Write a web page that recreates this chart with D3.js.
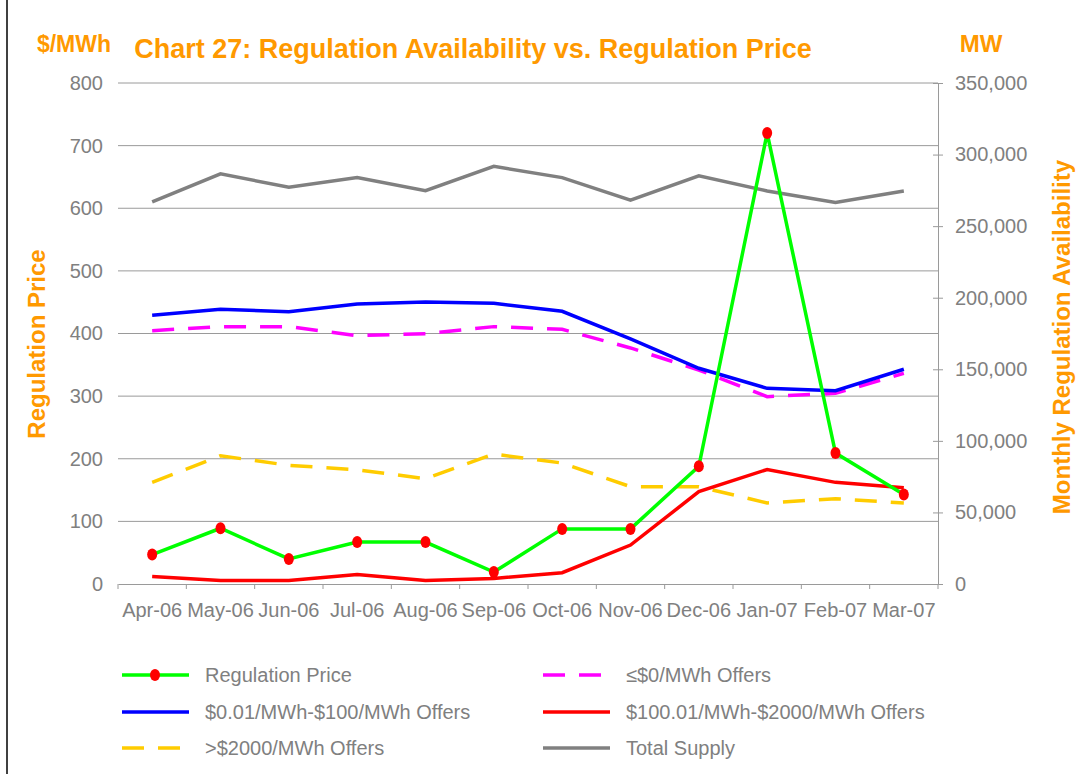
<!DOCTYPE html>
<html>
<head>
<meta charset="utf-8">
<script src="https://cdn.jsdelivr.net/npm/d3@7"></script>
<style>
  body { margin: 0; background: #fff; }
  svg { display: block; font-family: "Liberation Sans", Arial, sans-serif; }
</style>
</head>
<body>
<div id="chart"></div>
<script>
const months = ["Apr-06", "May-06", "Jun-06", "Jul-06", "Aug-06", "Sep-06",
                "Oct-06", "Nov-06", "Dec-06", "Jan-07", "Feb-07", "Mar-07"];

// $/MWh (left axis)
const regPrice = [47, 89, 40, 67, 67, 19, 88, 88, 188, 720, 209, 143];

// MW (right axis)
const offersLe0 = [177000, 179800, 179800, 173500, 174900, 179800, 177900, 164900, 149500, 130900, 133200, 147200];
const offers001to100 = [187700, 191900, 190200, 195600, 197000, 196100, 190500, 171200, 150700, 136700, 135000, 150000];
const offers100to2000 = [5300, 2500, 2500, 6700, 2500, 3900, 7900, 27200, 64500, 80000, 71000, 67300];
const offersGt2000 = [71000, 89600, 82900, 79800, 73600, 90800, 84500, 68000, 68000, 56600, 59600, 56600];
const totalSupply = [266900, 286500, 277200, 283900, 274800, 291800, 283900, 268100, 285100, 274600, 266500, 274600];

const leftTicks = [0, 100, 200, 300, 400, 500, 600, 700, 800];
const rightTicks = [0, 50000, 100000, 150000, 200000, 250000, 300000, 350000];

const width = 1082, height = 774;
const margin = { top: 83, right: 144, bottom: 190, left: 118 };
const plotBottom = height - margin.bottom; // 584
const plotRight = width - margin.right;    // 938

const orange = "#FF9900";
const grey = "#808080";

const svg = d3.select("#chart").append("svg")
  .attr("width", width)
  .attr("height", height);

// frame edge on the left
svg.append("line")
  .attr("x1", 7).attr("x2", 7).attr("y1", 0).attr("y2", height)
  .attr("stroke", "#000").attr("stroke-width", 1.5);

const x = d3.scaleBand()
  .domain(months)
  .range([margin.left, plotRight])
  .padding(0);

const yL = d3.scaleLinear().domain([0, 800]).range([plotBottom, margin.top]);
const yR = d3.scaleLinear().domain([0, 350000]).range([plotBottom, margin.top]);

const cx = d => x(d) + x.bandwidth() / 2;

// gridlines
svg.append("g")
  .selectAll("line")
  .data(leftTicks.slice(1))
  .enter().append("line")
  .attr("x1", margin.left)
  .attr("x2", plotRight)
  .attr("y1", d => yL(d))
  .attr("y2", d => yL(d))
  .attr("stroke", "#9a9a9a")
  .attr("stroke-width", 1);

// left axis (labels only)
const leftAxis = svg.append("g")
  .attr("transform", `translate(${margin.left},0)`)
  .call(d3.axisLeft(yL).tickValues(leftTicks).tickSize(0).tickPadding(15));
leftAxis.select(".domain").remove();
leftAxis.selectAll("text")
  .attr("fill", grey)
  .style("font-size", "20px");

// bottom axis
const bottomAxis = svg.append("g")
  .attr("transform", `translate(0,${plotBottom})`)
  .call(d3.axisBottom(x).tickSize(0).tickPadding(19));
bottomAxis.select(".domain").attr("stroke", "#9a9a9a");
bottomAxis.selectAll("text")
  .attr("fill", grey)
  .style("font-size", "20px");
svg.append("g")
  .selectAll("line")
  .data(months.concat(["end"]))
  .enter().append("line")
  .attr("x1", (d, i) => margin.left + i * x.bandwidth())
  .attr("x2", (d, i) => margin.left + i * x.bandwidth())
  .attr("y1", plotBottom)
  .attr("y2", plotBottom + 5)
  .attr("stroke", "#9a9a9a");

// right axis
const rightAxis = svg.append("g")
  .attr("transform", `translate(${plotRight},0)`)
  .call(d3.axisRight(yR).tickValues(rightTicks).tickSize(5).tickPadding(12)
    .tickFormat(d3.format(",")));
rightAxis.select(".domain").attr("stroke", "#9a9a9a");
rightAxis.selectAll(".tick line")
  .attr("x1", -5)
  .attr("stroke", "#9a9a9a");
rightAxis.selectAll("text")
  .attr("fill", grey)
  .style("font-size", "20px");

// series
const lineR = d3.line().x((d, i) => cx(months[i])).y(d => yR(d));
const lineL = d3.line().x((d, i) => cx(months[i])).y(d => yL(d));

const series = [
  { name: "Total Supply", data: totalSupply, color: "#808080", dash: null },
  { name: ">$2000/MWh Offers", data: offersGt2000, color: "#FFCC00", dash: "22,14" },
  { name: "≤$0/MWh Offers", data: offersLe0, color: "#FF00FF", dash: "22,14" },
  { name: "$0.01/MWh-$100/MWh Offers", data: offers001to100, color: "#0000FF", dash: null },
  { name: "$100.01/MWh-$2000/MWh Offers", data: offers100to2000, color: "#FF0000", dash: null }
];

series.forEach(s => {
  svg.append("path")
    .datum(s.data)
    .attr("fill", "none")
    .attr("stroke", s.color)
    .attr("stroke-width", 3.5)
    .attr("stroke-dasharray", s.dash)
    .attr("d", lineR);
});

svg.append("path")
  .datum(regPrice)
  .attr("fill", "none")
  .attr("stroke", "#00FF00")
  .attr("stroke-width", 3.5)
  .attr("d", lineL);

svg.append("g")
  .selectAll("ellipse")
  .data(regPrice)
  .enter().append("ellipse")
  .attr("cx", (d, i) => cx(months[i]))
  .attr("cy", d => yL(d))
  .attr("rx", 5)
  .attr("ry", 6)
  .attr("fill", "#FF0000");

// titles
svg.append("text")
  .attr("x", 473).attr("y", 58)
  .attr("text-anchor", "middle")
  .attr("fill", orange)
  .style("font-size", "27px")
  .style("font-weight", "bold")
  .text("Chart 27: Regulation Availability vs. Regulation Price");

svg.append("text")
  .attr("x", 74).attr("y", 52)
  .attr("text-anchor", "middle")
  .attr("fill", orange)
  .style("font-size", "23px")
  .style("font-weight", "bold")
  .text("$/MWh");

svg.append("text")
  .attr("x", 981).attr("y", 52)
  .attr("text-anchor", "middle")
  .attr("fill", orange)
  .style("font-size", "24px")
  .style("font-weight", "bold")
  .text("MW");

svg.append("text")
  .attr("transform", "translate(45,344) rotate(-90)")
  .attr("text-anchor", "middle")
  .attr("fill", orange)
  .style("font-size", "24px")
  .style("font-weight", "bold")
  .text("Regulation Price");

svg.append("text")
  .attr("transform", "translate(1070,337) rotate(-90)")
  .attr("text-anchor", "middle")
  .attr("fill", orange)
  .style("font-size", "24px")
  .style("font-weight", "bold")
  .text("Monthly Regulation Availability");

// legend
const legendItems = [
  { name: "Regulation Price", color: "#00FF00", dash: null, marker: true, col: 0, row: 0 },
  { name: "≤$0/MWh Offers", color: "#FF00FF", dash: "22,14", col: 1, row: 0 },
  { name: "$0.01/MWh-$100/MWh Offers", color: "#0000FF", dash: null, col: 0, row: 1 },
  { name: "$100.01/MWh-$2000/MWh Offers", color: "#FF0000", dash: null, col: 1, row: 1 },
  { name: ">$2000/MWh Offers", color: "#FFCC00", dash: "22,14", col: 0, row: 2 },
  { name: "Total Supply", color: "#808080", dash: null, col: 1, row: 2 }
];
const colX = [122, 543];
const rowY = [675, 712, 748];

const legend = svg.append("g");
legendItems.forEach(d => {
  const lx = colX[d.col], ly = rowY[d.row];
  legend.append("line")
    .attr("x1", lx).attr("x2", lx + 67)
    .attr("y1", ly).attr("y2", ly)
    .attr("stroke", d.color)
    .attr("stroke-width", 3.5)
    .attr("stroke-dasharray", d.dash);
  if (d.marker) {
    legend.append("ellipse")
      .attr("cx", lx + 33).attr("cy", ly)
      .attr("rx", 5).attr("ry", 6)
      .attr("fill", "#FF0000");
  }
  legend.append("text")
    .attr("x", lx + 83).attr("y", ly + 7)
    .attr("fill", grey)
    .style("font-size", "20px")
    .text(d.name);
});
</script>
</body>
</html>
